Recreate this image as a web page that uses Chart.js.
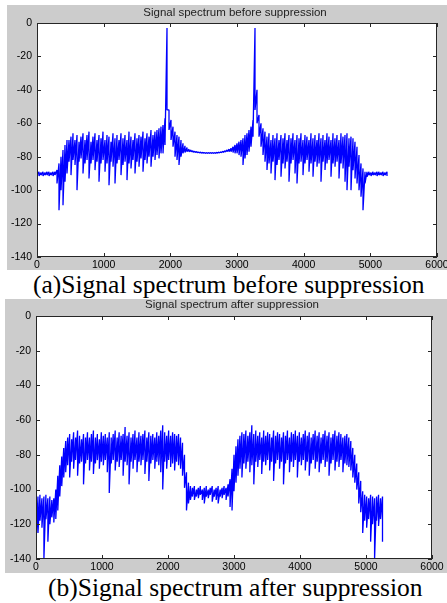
<!DOCTYPE html>
<html>
<head>
<meta charset="utf-8">
<script src="https://cdn.jsdelivr.net/npm/chart.js@4.4.0/dist/chart.umd.min.js"></script>
<style>
  html, body { margin: 0; padding: 0; background: #fff; }
  body { width: 447px; height: 603px; overflow: hidden; position: relative; }
  .fig { position: absolute; background: #cccccc; overflow: hidden; }
  .fig canvas { position: absolute; left: 0; top: 0; }
  .caption {
    position: absolute; white-space: nowrap; color: #000;
    font-family: "Liberation Serif", "Times New Roman", serif;
    font-size: 25.5px; line-height: 1;
  }
</style>
</head>
<body>
<div class="fig" style="left:7px;top:5px;width:440px;height:265px"><canvas id="chartA" width="470" height="265"></canvas></div>
<div class="caption" id="capA" style="left:33px;top:272px"></div>
<div class="fig" style="left:5px;top:299px;width:442px;height:274px"><canvas id="chartB" width="472" height="274"></canvas></div>
<div class="caption" id="capB" style="left:48px;top:575px"></div>

<script>
// FFT bins, 30 Hz apart, 0..5250
const binHz = Array.from({ length: 176 }, (_, i) => i * 30);

const xTicks = [0, 1000, 2000, 3000, 4000, 5000, 6000];
const yTicks = [0, -20, -40, -60, -80, -100, -120, -140];

const titleBefore = 'Signal spectrum before suppression';
const titleAfter = 'Signal spectrum after suppression';
const captionBefore = '(a)Signal spectrum before suppression';
const captionAfter = '(b)Signal spectrum after suppression';

// upper / lower edge of the trace in each bin (dB)
const beforeHi = [
  -89.5, -89, -89.5, -89, -89.5, -89, -89, -89.5, -89, -89,
  -88, -84, -80, -76, -73, -70,
  -70, -68, -66, -70, -67, -71, -68, -66, -70, -67, -65, -71, -68, -66, -70, -67,
  -69, -65, -70, -67, -68, -71, -66, -69, -67, -70, -66, -69, -67, -70, -65, -68,
  -70, -66, -69, -67, -68, -65, -69, -66, -68, -64, -67, -65, -64, -63, -62,
  -61, -57,
  -3,
  -52, -58, -62, -65, -67, -68, -70, -72, -73.5, -74.5, -75.5, -76, -76.5, -76.8, -77,
  -77.2, -77.3, -77.4, -77.5, -77.5, -77.6, -77.6, -77.5, -77.5, -77.4,
  -77.3, -77.1, -76.8, -76.5, -76, -75.5, -75, -74, -73, -72,
  -71, -70, -69, -67, -66, -64, -62, -58,
  -3,
  -40, -55, -60,
  -63, -65, -68, -66, -70, -67, -69, -66, -70, -67, -69, -66, -70, -67, -69, -66,
  -70, -67, -69, -66, -70, -67, -68, -70, -66, -69, -67, -70, -66, -69, -67, -70,
  -66, -68, -70, -66, -69, -67, -70, -66, -68, -67, -66, -69, -68, -69,
  -71, -74, -79, -84, -87, -89, -89,
  -89, -89.5, -89, -89.5, -89, -89, -89.5, -89, -89.5, -89
];
const beforeLo = [
  -91, -91.5, -91, -91.5, -91, -91, -91.5, -91, -91.5, -91,
  -96, -112, -100, -109, -95, -90,
  -83, -91, -82, -85, -100, -83, -81, -90, -84, -82, -93, -84, -82, -88, -83, -95,
  -84, -82, -89, -84, -97, -83, -86, -96, -84, -82, -91, -85, -83, -94, -84, -87,
  -82, -90, -83, -86, -81, -89, -82, -84, -80, -86, -80, -82, -79, -81, -78,
  -78, -73,
  -52,
  -64, -70, -74, -80, -82, -85, -80, -78, -77.5, -77, -77, -77, -77.3, -77.4, -77.5,
  -77.7, -77.8, -77.9, -78, -78, -78, -78, -78, -78, -77.9,
  -77.8, -77.6, -77.4, -77.2, -77, -77, -77, -77.5, -78, -78,
  -79, -80, -85, -81, -79, -77, -74, -68,
  -52,
  -60, -68, -74,
  -79, -83, -88, -84, -90, -83, -94, -85, -82, -92, -84, -87, -83, -95, -84, -82,
  -90, -96, -84, -83, -91, -84, -82, -89, -84, -92, -83, -86, -84, -95, -83, -88,
  -84, -82, -92, -84, -86, -83, -93, -84, -87, -95, -100, -86, -100, -88,
  -93, -96, -100, -104, -112, -96, -92,
  -91, -91.5, -91, -91, -91.5, -91, -91, -91.5, -91, -91.5
];

const afterHi = [
  -103, -104, -103, -105, -104, -103, -105, -104, -106, -105,
  -100, -92, -86, -81, -76, -72,
  -70, -68, -71, -67, -70, -66, -69, -71, -68, -70, -67, -70, -68, -66, -70, -68,
  -71, -67, -69, -68, -70, -67, -70, -68, -66, -70, -67, -69, -68, -64, -69, -67,
  -70, -68, -66, -70, -67, -69, -68, -66, -70, -67, -69, -68, -70, -67, -69, -66,
  -63, -67, -69, -66, -69, -67, -68, -69, -68,
  -70, -73, -80, -90, -96, -98,
  -99, -98, -100, -99, -98, -100, -99, -98, -100, -99, -98, -100, -99, -98, -100, -99,
  -98, -99, -97,
  -94, -88, -80, -75, -71, -69, -67,
  -68, -66, -69, -67, -63, -68, -66, -69, -67, -70, -66, -69, -67, -68, -70, -66,
  -69, -67, -68, -70, -67, -69, -66, -70, -67, -68, -66, -69, -67, -70, -68, -66,
  -69, -67, -70, -68, -66, -69, -67, -70, -68, -66, -69, -67, -70, -68, -66, -69,
  -67, -68, -70, -69, -68, -70,
  -72, -76, -80, -85, -90, -95, -101,
  -103, -104, -105, -103, -104, -105, -104, -103, -105, -104
];
const afterLo = [
  -130, -125, -118, -122, -140, -117, -130, -120, -116, -119,
  -117, -112, -104, -98, -93, -90,
  -86, -93, -84, -88, -83, -92, -85, -84, -97, -85, -83, -89, -84, -91, -85, -83,
  -88, -84, -86, -83, -90, -102, -85, -83, -89, -84, -87, -83, -92, -84, -86, -97,
  -84, -88, -83, -90, -84, -86, -83, -91, -84, -95, -85, -83, -88, -84, -86, -90,
  -100, -84, -88, -83, -87, -85, -89, -84, -86,
  -88, -92, -99, -112, -108, -106,
  -104, -106, -104, -105, -103, -106, -108, -104, -105, -103, -107, -104, -106, -108, -104, -105,
  -103, -106, -104,
  -110, -112, -101, -96, -92, -88, -93,
  -85, -88, -84, -90, -86, -97, -84, -87, -83, -91, -84, -86, -83, -89, -84, -95,
  -85, -83, -88, -84, -97, -85, -83, -90, -84, -87, -83, -93, -84, -86, -83, -89,
  -84, -92, -85, -83, -88, -84, -90, -85, -83, -87, -84, -92, -85, -83, -89, -84,
  -87, -83, -90, -85, -86, -87,
  -89, -93, -96, -100, -108, -113, -125,
  -118, -122, -117, -130, -120, -140, -118, -121, -117, -130
];

const LINE = '#0000ff';
const INK = '#000000';

// each bin becomes a vertical stroke hi -> lo, which gives the dense noisy look
function zigzag(hi, lo) {
  const pts = [];
  binHz.forEach((f, i) => { pts.push({ x: f, y: hi[i] }, { x: f, y: lo[i] }); });
  return pts;
}

// white axes box, inward ticks on all four sides, small title in the grey band
const matlabFrame = {
  id: 'matlabFrame',
  beforeDraw(chart) {
    const { ctx, chartArea: a } = chart;
    ctx.save();
    ctx.fillStyle = '#ffffff';
    ctx.fillRect(a.left, a.top, a.right - a.left, a.bottom - a.top);
    ctx.restore();
  },
  afterDraw(chart, args, opts) {
    const { ctx, chartArea: a, scales } = chart;
    ctx.save();
    ctx.strokeStyle = '#262626';
    ctx.lineWidth = 1;
    ctx.strokeRect(a.left + 0.5, a.top + 0.5, a.right - a.left - 1, a.bottom - a.top - 1);
    ctx.beginPath();
    scales.x.ticks.forEach(t => {
      const px = Math.round(scales.x.getPixelForValue(t.value)) + 0.5;
      ctx.moveTo(px, a.bottom); ctx.lineTo(px, a.bottom - 4);
      ctx.moveTo(px, a.top); ctx.lineTo(px, a.top + 4);
    });
    scales.y.ticks.forEach(t => {
      const py = Math.round(scales.y.getPixelForValue(t.value)) + 0.5;
      ctx.moveTo(a.left, py); ctx.lineTo(a.left + 4, py);
      ctx.moveTo(a.right, py); ctx.lineTo(a.right - 4, py);
    });
    ctx.stroke();
    ctx.fillStyle = '#222222';
    ctx.font = '11.5px "Liberation Sans", Arial, sans-serif';
    ctx.textAlign = 'center';
    ctx.textBaseline = 'middle';
    ctx.fillText(opts.title, (a.left + a.right) / 2 - 2, opts.titleY);
    ctx.restore();
  }
};

function drawSpectrum(id, hi, lo, layout) {
  const font = { family: '"Liberation Sans", Arial, sans-serif', size: 10.5 };
  return new Chart(document.getElementById(id), {
    type: 'line',
    data: {
      datasets: [{
        data: zigzag(hi, lo),
        borderColor: LINE,
        borderWidth: 1.3,
        borderJoinStyle: 'bevel',
        pointRadius: 0,
        tension: 0,
        fill: false
      }]
    },
    options: {
      responsive: false,
      animation: false,
      events: [],
      layout: { padding: { top: layout.top, right: layout.right, bottom: 0, left: 0 } },
      plugins: {
        legend: { display: false },
        tooltip: { enabled: false },
        matlabFrame: { title: layout.title, titleY: layout.titleY }
      },
      scales: {
        x: {
          type: 'linear', min: 0, max: 6000,
          afterBuildTicks: s => { s.ticks = xTicks.map(v => ({ value: v })); },
          afterFit: s => { s.height = layout.xh; },
          grid: { display: false, drawTicks: false },
          border: { display: false },
          ticks: { color: INK, font, padding: 2, maxRotation: 0, autoSkip: false, callback: v => String(v) }
        },
        y: {
          type: 'linear', min: -140, max: 0,
          afterBuildTicks: s => { s.ticks = yTicks.map(v => ({ value: v })); },
          afterFit: s => { s.width = layout.yw; },
          grid: { display: false, drawTicks: false },
          border: { display: false },
          ticks: { color: INK, font, padding: 5, autoSkip: false, callback: v => String(v) }
        }
      }
    },
    plugins: [matlabFrame]
  });
}

drawSpectrum('chartA', beforeHi, beforeLo, { top: 18, right: 40, xh: 13, yw: 30, title: titleBefore, titleY: 8 });
drawSpectrum('chartB', afterHi, afterLo, { top: 17, right: 45, xh: 14, yw: 31, title: titleAfter, titleY: 6 });

document.getElementById('capA').textContent = captionBefore;
document.getElementById('capB').textContent = captionAfter;
</script>
</body>
</html>
